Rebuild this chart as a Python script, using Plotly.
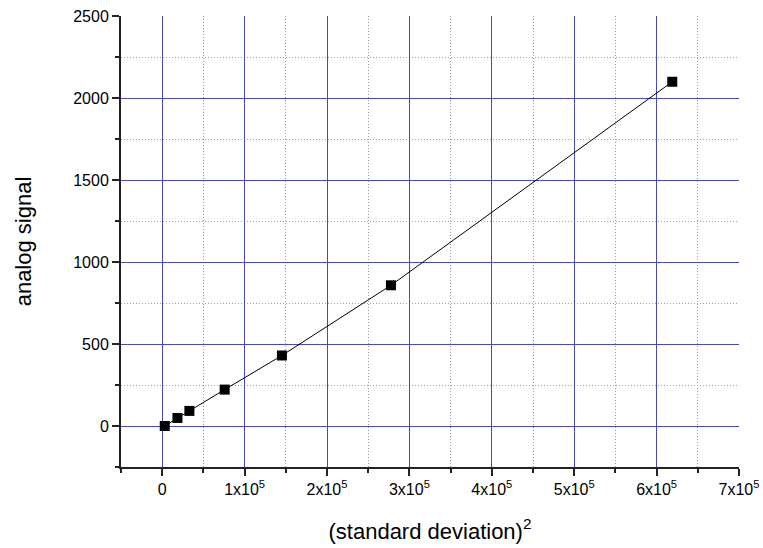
import plotly.graph_objects as go

sigma_sq = [3100, 18500, 33000, 75800, 145300, 277600, 619000]
analog_signal = [0, 49, 92, 222, 430, 858, 2099]

x_tick_vals = [0, 100000, 200000, 300000, 400000, 500000, 600000, 700000]
x_tick_text = ["0", "1x10<sup>5</sup>", "2x10<sup>5</sup>", "3x10<sup>5</sup>", "4x10<sup>5</sup>",
               "5x10<sup>5</sup>", "6x10<sup>5</sup>", "7x10<sup>5</sup>"]
y_tick_vals = [0, 500, 1000, 1500, 2000, 2500]

grid_major = "rgb(70,75,185)"
grid_minor = "rgb(160,160,160)"

fig = go.Figure()
fig.add_trace(go.Scatter(
    x=sigma_sq, y=analog_signal, mode="lines+markers",
    line=dict(color="black", width=1),
    marker=dict(symbol="square", size=10, color="black"),
    showlegend=False,
))

fig.update_layout(
    width=763, height=548,
    margin=dict(l=121, r=24, t=16, b=81),
    paper_bgcolor="white", plot_bgcolor="white",
    font=dict(family="Liberation Sans, Arial, sans-serif", color="black", size=16),
    xaxis=dict(
        range=[-50000, 700000], automargin=False,
        tickmode="array", tickvals=x_tick_vals, ticktext=x_tick_text,
        ticks="outside", ticklen=7, tickwidth=2, tickcolor="#222",
        showline=True, linecolor="#222", linewidth=2,
        showgrid=True, gridcolor=grid_major, gridwidth=1,
        zeroline=False,
        tickfont=dict(size=16),
        minor=dict(tickmode="linear", tick0=50000, dtick=100000, ticks="outside", ticklen=4,
                   tickwidth=2, tickcolor="#222",
                   showgrid=True, gridcolor=grid_minor, griddash="1px,2px", gridwidth=1),
        title=dict(text="(standard deviation)<sup>2</sup>", font=dict(size=22), standoff=26),
    ),
    yaxis=dict(
        range=[-250, 2500], automargin=False,
        tickmode="array", tickvals=y_tick_vals,
        ticks="outside", ticklen=7, tickwidth=2, tickcolor="#222",
        showline=True, linecolor="#222", linewidth=2,
        showgrid=True, gridcolor=grid_major, gridwidth=1,
        zeroline=False,
        tickfont=dict(size=16),
        minor=dict(tickmode="linear", tick0=250, dtick=500, ticks="outside", ticklen=4,
                   tickwidth=2, tickcolor="#222",
                   showgrid=True, gridcolor=grid_minor, griddash="1px,2px", gridwidth=1),
        title=dict(text="analog signal", font=dict(size=22), standoff=36),
    ),
)

fig.write_html("out.html")
